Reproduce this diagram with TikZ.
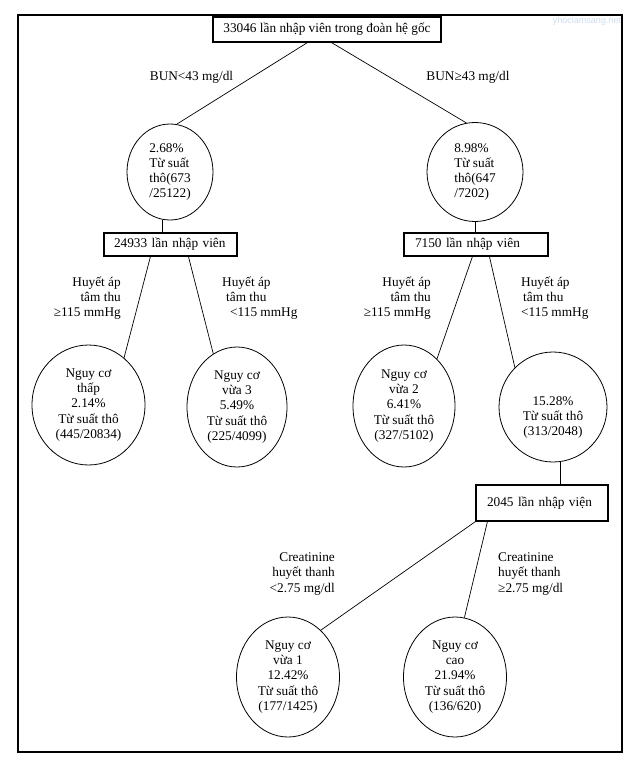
\documentclass[tikz,border=0pt]{standalone}
\usepackage{fontspec}
\setmainfont{Liberation Serif}
\newfontfamily\wmfont{Liberation Sans}
\usetikzlibrary{shapes.geometric,calc}
\definecolor{wmblue}{RGB}{205,220,238}
\begin{document}
\begin{tikzpicture}[x=1pt,y=-1pt,
  every node/.style={font=\fontsize{13.3}{15.2}\selectfont, inner sep=0pt},
  box/.style={draw, line width=1.1pt, rectangle},
  oval/.style={draw, ellipse, line width=0.8pt, align=center},
  link/.style={line width=0.7pt},
  lbl/.style={inner sep=0pt}]
\useasboundingbox (0,0) rectangle (644,774);
\draw[line width=1.3pt] (18,15) rectangle (622,752);
\node[text=wmblue, font=\wmfont\fontsize{9}{10}\selectfont] (wm) at (587,21) {yhoclamsang.net};

% root
\node[box, minimum width=228, minimum height=25] (root) at (327,29.5) {33046 lần nhập viên trong đoàn hệ gốc};

% level 1
\node[oval, minimum width=86, minimum height=96, align=left] (e1) at (170,172) {2.68\%\\Từ suất\\thô(673\\/25122)};
\node[oval, minimum width=96, minimum height=99, align=left] (e2) at (475,172) {8.98\%\\Từ suất\\thô(647\\/7202)};

\node[lbl] (bunl) at (191.5,77) {BUN<43 mg/dl};
\node[lbl] (bunr) at (468,77) {BUN≥43 mg/dl};

\draw[link] ($(root.south west)+(95,0)$) -- (e1.82);
\draw[link] ($(root.south west)+(119,0)$) -- (e2.100);

% boxes
\node[box, text width=113, inner xsep=10pt, minimum height=23, align=left] (b1) at (170.5,244.5) {24933 lần nhập viên};
\node[box, text width=122, inner xsep=11pt, minimum height=23, align=left] (b2) at (476,244.5) {7150 lần nhập viên};

\draw[link] (e1.261) -- (e1.261 |- b1.north);
\draw[link] (e2.south) -- (e2.south |- b2.north);

% level 2
\node[oval, minimum width=113, minimum height=120] (l1) at (88.5,405) {Nguy cơ\\thấp\\2.14\%\\Từ suất thô\\(445/20834)};
\node[oval, minimum width=100, minimum height=120] (l2) at (237,407) {Nguy cơ\\vừa 3\\5.49\%\\Từ suất thô\\(225/4099)};
\node[oval, minimum width=102, minimum height=122] (l3) at (404,406) {Nguy cơ\\vừa 2\\6.41\%\\Từ suất thô\\(327/5102)};
\node[oval, minimum width=108, minimum height=110] (l4) at (553,407) {\\\\15.28\%\\Từ suất thô\\(313/2048)};

\node[lbl, align=right, anchor=east] (h1) at (121,298) {Huyết áp\\tâm thu\\≥115 mmHg};
\node[lbl, align=left, anchor=west] (h2) at (222,298) {Huyết áp\\\hspace*{4pt}tâm thu\\\hspace*{8pt}<115 mmHg};
\node[lbl, align=right, anchor=east] (h3) at (431,298) {Huyết áp\\tâm thu\\≥115 mmHg};
\node[lbl, align=left, anchor=west] (h4) at (521,298) {Huyết áp\\\hspace*{2pt}tâm thu\\<115 mmHg};

\draw[link] ($(b1.south west)+(47,0)$) -- (l1.53);
\draw[link] ($(b1.south west)+(85,0)$) -- (l2.114);
\draw[link] ($(b2.south west)+(69,0)$) -- (l3.55);
\draw[link] ($(b2.south west)+(86,0)$) -- (l4.134);

% box 3
\node[box, text width=110, inner xsep=11pt, minimum height=36, align=left] (b3) at (542,503) {2045 lần nhập viện};
\draw[link] (l4.278) -- (l4.278 |- b3.north);

% level 3
\node[oval, minimum width=103, minimum height=120] (m1) at (288,677) {Nguy cơ\\vừa 1\\12.42\%\\Từ suất thô\\(177/1425)};
\node[oval, minimum width=103, minimum height=120] (m2) at (455,677) {Nguy cơ\\cao\\21.94\%\\Từ suất thô\\(136/620)};

\node[lbl, align=right, anchor=east] (c1) at (335,574) {Creatinine\\huyết thanh\\<2.75 mg/dl};
\node[lbl, align=left, anchor=west] (c2) at (498,574) {Creatinine\\huyết thanh\\≥2.75 mg/dl};

\draw[link] (b3.south west) -- (m1.55);
\draw[link] ($(b3.south west)+(12,0)$) -- (m2.81);
\end{tikzpicture}
\end{document}
